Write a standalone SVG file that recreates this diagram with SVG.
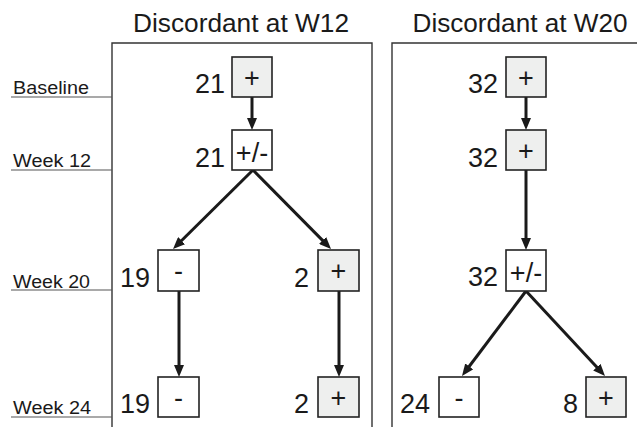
<svg xmlns="http://www.w3.org/2000/svg" width="637" height="427" viewBox="0 0 637 427">
<style>
text{font-family:"Liberation Sans",Arial,sans-serif;fill:#1a1a1a}
.title{font-size:26px;text-anchor:middle}
.lab{font-size:17.5px}
.num{font-size:27px;text-anchor:end}
.sym{font-size:27px;text-anchor:middle}
.box{stroke:#222;stroke-width:1.6}
.pos{fill:#eeefee}
.neg{fill:#ffffff}
.frame{fill:none;stroke:#333;stroke-width:1.4}
.uline{stroke:#555;stroke-width:1.2}
.arr{stroke:#1a1a1a;stroke-width:3;fill:none;marker-end:url(#ah)}
</style>
<defs>
<marker id="ah" markerUnits="userSpaceOnUse" markerWidth="12" markerHeight="10" viewBox="0 0 12 10" refX="7" refY="5" orient="auto">
<path d="M0,0 L12,5 L0,10 z" fill="#1a1a1a"/>
</marker>
</defs>
<rect width="637" height="427" fill="#fff"/>
<g id="titles">
<text class="title" x="241" y="32" textLength="216" lengthAdjust="spacingAndGlyphs">Discordant at W12</text>
<text class="title" x="520" y="32" textLength="215" lengthAdjust="spacingAndGlyphs">Discordant at W20</text>
</g>
<g id="frames">
<path class="frame" d="M112,427 V43 H372 V427"/>
<path class="frame" d="M392,427 V43 H637"/>
</g>
<g id="timepoints">
<line class="uline" x1="11" y1="97" x2="112" y2="97"/>
<text class="lab" x="13" y="94" textLength="76" lengthAdjust="spacingAndGlyphs">Baseline</text>
<line class="uline" x1="11" y1="170" x2="112" y2="170"/>
<text class="lab" x="13" y="167" textLength="78" lengthAdjust="spacingAndGlyphs">Week 12</text>
<line class="uline" x1="11" y1="290" x2="112" y2="290"/>
<text class="lab" x="13" y="288" textLength="77" lengthAdjust="spacingAndGlyphs">Week 20</text>
<line class="uline" x1="11" y1="417" x2="112" y2="417"/>
<text class="lab" x="13" y="414" textLength="78" lengthAdjust="spacingAndGlyphs">Week 24</text>
</g>
<g id="connectors">
<line class="arr" x1="252" y1="97" x2="252" y2="125"/>
<line class="arr" x1="253" y1="170" x2="176.6" y2="245.5"/>
<line class="arr" x1="253" y1="170" x2="327.5" y2="245.4"/>
<line class="arr" x1="179" y1="291" x2="179" y2="372"/>
<line class="arr" x1="339" y1="291" x2="339" y2="372"/>
<line class="arr" x1="526" y1="97" x2="526" y2="125"/>
<line class="arr" x1="526" y1="170" x2="526" y2="245"/>
<line class="arr" x1="526" y1="291" x2="465" y2="372"/>
<line class="arr" x1="526" y1="291" x2="601.6" y2="372.3"/>
</g>
<g id="n-w12-baseline">
<rect class="box pos" x="232" y="57" width="40" height="40"/>
<text class="sym" x="252" y="87">+</text>
<text class="num" x="225" y="93">21</text>
</g>
<g id="n-w12-week12">
<rect class="box neg" x="232" y="130" width="40" height="40"/>
<text class="sym" x="252" y="162">+/-</text>
<text class="num" x="225" y="167">21</text>
</g>
<g id="n-w12-week20-neg">
<rect class="box neg" x="158" y="250" width="41" height="41"/>
<text class="sym" x="178.5" y="280">-</text>
<text class="num" x="150" y="287">19</text>
</g>
<g id="n-w12-week20-pos">
<rect class="box pos" x="318" y="250" width="41" height="41"/>
<text class="sym" x="338.5" y="280">+</text>
<text class="num" x="309" y="287">2</text>
</g>
<g id="n-w12-week24-neg">
<rect class="box neg" x="158" y="377" width="41" height="40"/>
<text class="sym" x="178.5" y="407">-</text>
<text class="num" x="150" y="413">19</text>
</g>
<g id="n-w12-week24-pos">
<rect class="box pos" x="318" y="377" width="41" height="40"/>
<text class="sym" x="338.5" y="407">+</text>
<text class="num" x="309" y="413">2</text>
</g>
<g id="n-w20-baseline">
<rect class="box pos" x="506" y="57" width="40" height="40"/>
<text class="sym" x="526" y="87">+</text>
<text class="num" x="498" y="93">32</text>
</g>
<g id="n-w20-week12">
<rect class="box pos" x="506" y="130" width="40" height="40"/>
<text class="sym" x="526" y="160">+</text>
<text class="num" x="498" y="167">32</text>
</g>
<g id="n-w20-week20">
<rect class="box neg" x="506" y="250" width="40" height="41"/>
<text class="sym" x="526" y="282">+/-</text>
<text class="num" x="498" y="286">32</text>
</g>
<g id="n-w20-week24-neg">
<rect class="box neg" x="439" y="377" width="40" height="40"/>
<text class="sym" x="459" y="407">-</text>
<text class="num" x="430" y="413">24</text>
</g>
<g id="n-w20-week24-pos">
<rect class="box pos" x="586" y="377" width="40" height="40"/>
<text class="sym" x="606" y="407">+</text>
<text class="num" x="578" y="413">8</text>
</g>
</svg>
